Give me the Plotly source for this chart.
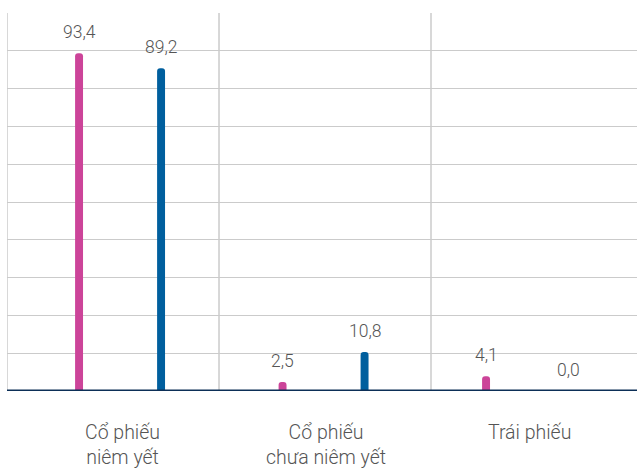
import plotly.graph_objects as go

# Category labels and the two series (percent)
categories = ["Cổ phiếu<br>niêm yết", "Cổ phiếu<br>chưa niêm yết", "Trái phiếu"]
series_a = [93.4, 2.5, 4.1]
series_b = [89.2, 10.8, 0.0]

color_a = "#cc4499"
color_b = "#005f9e"
text_color = "#555555"
grid_color = "#cbcbcb"
base_color = "#0c2f57"

# x in category units: centre of category i sits at i
x_left, x_right = -0.5651, 2.5307
bar_w = 0.039
pos_a = -0.211   # centre of first series bar relative to category
pos_b = 0.192    # centre of second series bar relative to category
xs = list(range(len(categories)))
y_max = 104.5

fig = go.Figure()
fig.add_trace(go.Bar(
    x=xs, y=series_a, width=bar_w, offset=pos_a - bar_w / 2,
    marker=dict(color=color_a, cornerradius="50%", line=dict(width=0)),
    hoverinfo="skip",
))
fig.add_trace(go.Bar(
    x=xs, y=series_b, width=bar_w, offset=pos_b - bar_w / 2,
    marker=dict(color=color_b, cornerradius="50%", line=dict(width=0)),
    hoverinfo="skip",
))

def fmt(v):
    return f"{v:.1f}".replace(".", ",")

annotations = []
for i, (a, b) in enumerate(zip(series_a, series_b)):
    for val, pos in ((a, pos_a), (b, pos_b)):
        annotations.append(dict(
            x=i + pos, y=val, xref="x", yref="y", text=fmt(val),
            showarrow=False, yanchor="middle", yshift=21,
            font=dict(family="Roboto", size=17.5, color=text_color, weight=300),
        ))
for i, cat in enumerate(categories):
    annotations.append(dict(
        x=i, y=0, xref="x", yref="paper", text=cat, showarrow=False,
        yanchor="top", yshift=-28, align="center",
        font=dict(family="Roboto", size=19.5, color=text_color, weight=300),
    ))

shapes = []
# vertical separators between category blocks
for xv in (x_left, 0.4767, 1.5184):
    shapes.append(dict(type="line", xref="x", yref="paper", x0=xv, x1=xv,
                       y0=0, y1=1, line=dict(color=grid_color, width=1.5),
                       layer="below"))
# baseline
shapes.append(dict(type="line", xref="paper", yref="y", x0=0, x1=1, y0=0, y1=0,
                   line=dict(color=base_color, width=3), layer="above"))

fig.update_layout(
    width=637, height=468,
    margin=dict(l=7, r=0, t=13, b=77),
    paper_bgcolor="white", plot_bgcolor="white",
    barmode="overlay", showlegend=False,
    annotations=annotations, shapes=shapes,
    xaxis=dict(range=[x_left, x_right], showgrid=False, zeroline=False,
               showticklabels=False, showline=False, fixedrange=True),
    yaxis=dict(range=[0, y_max], dtick=y_max / 10, tick0=0, showgrid=True,
               gridcolor=grid_color, gridwidth=1.3, zeroline=False,
               showticklabels=False, showline=False, fixedrange=True),
)

fig.write_html("out.html", config={"displayModeBar": False})
